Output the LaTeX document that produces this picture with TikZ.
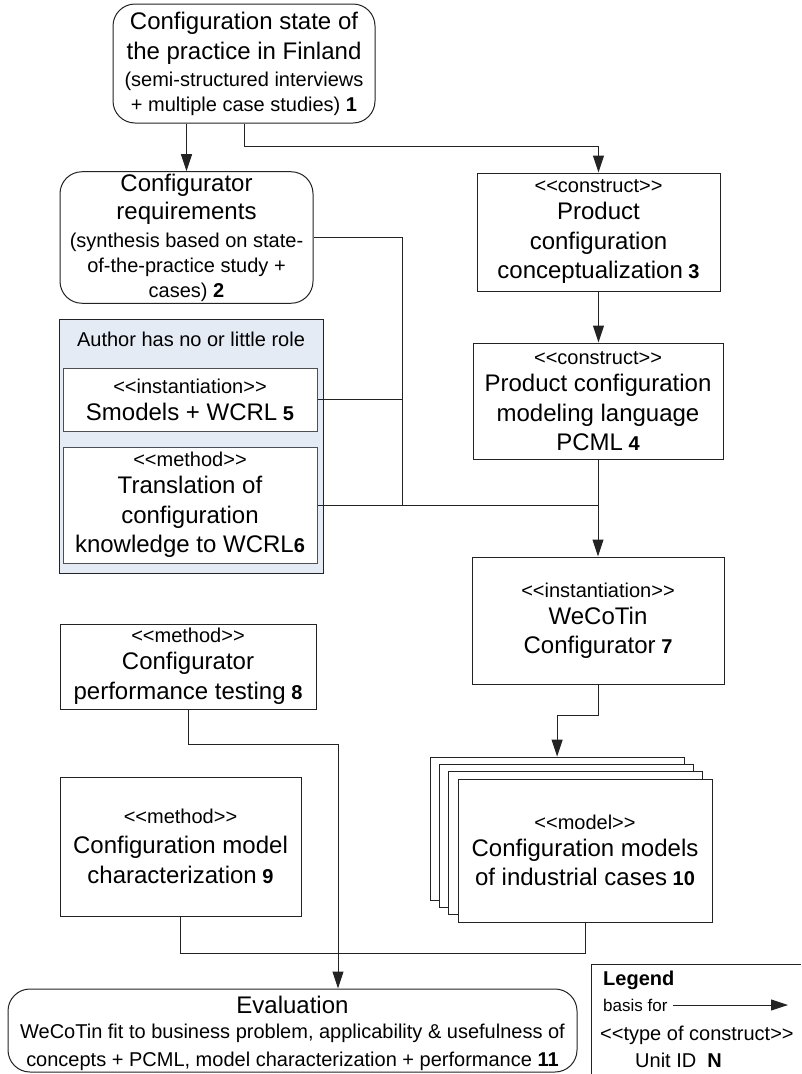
\documentclass[tikz,border=0pt]{standalone}
\usepackage{fontspec}
\setmainfont{Liberation Sans}
\usetikzlibrary{
arrows.meta,
calc,
positioning
}
\tikzset{>={Triangle[length=17pt,width=11pt]}}
\definecolor{grpfill}{RGB}{229,235,245}
\definecolor{edge}{RGB}{35,35,35}
\newcommand{\hdr}{\fontsize{24}{29}\selectfont}
\newcommand{\sml}{\fontsize{20}{25}\selectfont}
\newcommand{\stereo}[1]{{\fontsize{20}{24}\selectfont<\kern0pt<#1>\kern0pt>}}

\begin{document}
\begin{tikzpicture}[x=1pt, y=-1pt, font=\sml,
	box/.style={draw=edge, line width=1pt, fill=white, align=center, inner sep=2pt},
	rbox/.style={box, rounded corners=22pt},
	conn/.style={draw=edge, line width=1pt}]
	\useasboundingbox (0,0) rectangle (801,1074);

	% studies and constructs
	\node[rbox,minimum width=262pt,minimum height=119pt] (state) at (244,63.5) {{\hdr Configuration state of}\\[5pt]{\hdr the practice in Finland}\\[2pt](semi-structured interviews\\+ multiple case studies) \textbf{1}};
	\node[rbox,minimum width=253pt,minimum height=127pt] (reqs) at (186.5,237.5) {{\hdr Configurator}\\[3pt]{\hdr requirements}\\[3pt](synthesis based on state-\\of-the-practice study +\\cases) \textbf{2}};
	\node[box,minimum width=243pt,minimum height=118pt] (concept) at (598.5,232) {\stereo{construct}\\[2pt]{\hdr Product}\\[5pt]{\hdr configuration}\\[4pt]{\hdr conceptualization} \textbf{3}};
	\node[box,minimum width=250pt,minimum height=116pt] (pcml) at (598,401) {\stereo{construct}\\[2pt]{\hdr Product configuration}\\[5pt]{\hdr modeling language}\\[4pt]{\hdr PCML} \textbf{4}};

	% group where the author has a small part
	\node[draw=edge,line width=1pt,fill=grpfill,minimum width=264pt,minimum height=254pt] (group) at (191,446) {};
	\node (roletitle) at ([yshift=-21pt]group.north) {Author has no or little role};
	\node[box,draw=edge!80,minimum width=254pt,minimum height=63pt] (smodels) at (190,399.5) {\stereo{instantiation}\\[2pt]{\hdr Smodels + WCRL} \textbf{5}};
	\node[box,draw=edge!80,minimum width=254pt,minimum height=116pt] (translation) at (190,505) {\stereo{method}\\[2pt]{\hdr Translation of}\\[5pt]{\hdr configuration}\\[4pt]{\hdr knowledge to WCRL}\textbf{6}};

	\node[box,minimum width=252pt,minimum height=127pt] (wecotin) at (598,620.5) {\stereo{instantiation}\\[2pt]{\hdr WeCoTin}\\[4pt]{\hdr Configurator} \textbf{7}};
	\node[box,minimum width=256pt,minimum height=85pt] (perftest) at (188,666.5) {\stereo{method}\\[2pt]{\hdr Configurator}\\[5pt]{\hdr performance testing} \textbf{8}};
	\node[box,minimum width=241pt,minimum height=139pt] (charact) at (180.5,846.5) {\stereo{method}\\[5pt]{\hdr Configuration model}\\[5pt]{\hdr characterization} \textbf{9}};

	% stacked models
	\foreach \i in {3,2,1}
		\node[box,minimum width=254pt,minimum height=143pt] (back\i) at (585-9.3*\i,850.5-7.3*\i) {};
	\node[box,minimum width=254pt,minimum height=143pt] (models) at (585,850.5) {\stereo{model}\\[2pt]{\hdr Configuration models}\\[4pt]{\hdr of industrial cases} \textbf{10}};

	\node[rbox,minimum width=569pt,minimum height=83pt] (eval) at (292.5,1030.5) {};
	\node[align=center,inner sep=0] (evaltext) at (292.5,1033.5) {{\hdr Evaluation}\\[0pt]WeCoTin fit to business problem, applicability \& usefulness of\\[3pt]concepts + PCML, model characterization + performance \textbf{11}};

	% connectors
	\coordinate (merge) at (402,505);
	\draw[conn,->] (state.south -| reqs.north) -- (reqs.north);
	\draw[conn,->] (state.south) -- ++(0,23) -| (concept.north);
	\draw[conn,->] (concept.south) -- (concept.south |- pcml.north);
	\draw[conn] (reqs.east) -| (merge) -- (merge -| pcml.south);
	\draw[conn] (smodels.east) -- (smodels.east -| merge);
	\draw[conn] (translation.east) -- (merge);
	\draw[conn,->] (pcml.south) -- (wecotin.north);
	\draw[conn,->] (wecotin.south) -- ++(0,31) -| (back3.north);
	\draw[conn] (models.south) -- ++(0,31) -| (charact.south);
	\draw[conn,->] (perftest.south) -- ++(0,35) -| ([xshift=45.5pt]eval.north);

	% legend
	\coordinate (legendnw) at (591,964);
	\draw[conn] (801,964) -- (legendnw) -- (591,1074);
	\node[anchor=west,inner sep=0,font=\sml\bfseries] (legendtitle) at (603,980) {Legend};
	\node[anchor=west,inner sep=0,font=\fontsize{17}{20}\selectfont] (basis) at (603,1005) {basis for};
	\coordinate (basistip) at (788,1005);
	\draw[conn,->] ([xshift=5pt]basis.east) -- (basistip);
	\node[anchor=west,inner sep=0] (typeof) at (600,1035) {<\kern0pt<type of construct>\kern0pt>};
	\node[anchor=west,inner sep=0] (unitid) at (635,1060) {Unit ID\ \ \textbf{N}};
\end{tikzpicture}
\end{document}
